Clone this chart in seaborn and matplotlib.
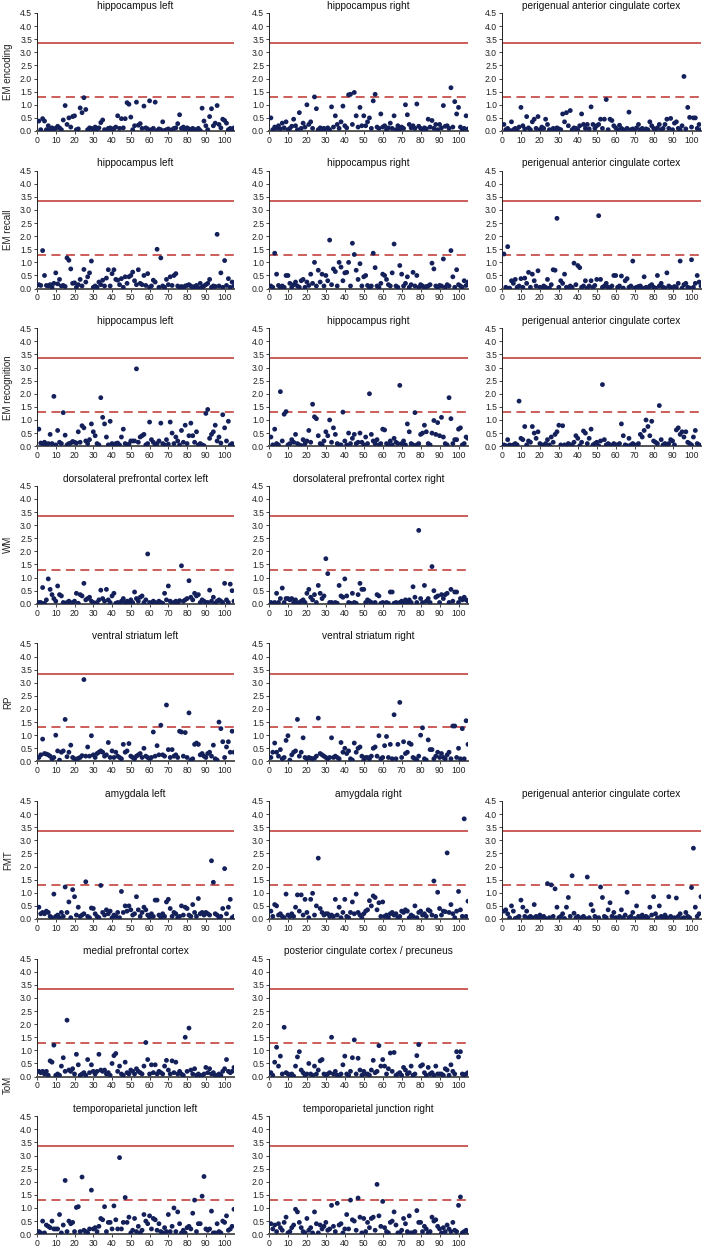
import numpy as np
import pandas as pd
import matplotlib
matplotlib.use("Agg")
import matplotlib.pyplot as plt
import seaborn as sns

# -log10(p) for each of the 105 tests, one list per panel
enc_hip_left = [
    0.38, 0.05, 0.47, 0.38, 0.05, 0.2, 0.05, 0.12, 0.08, 0.1, 0.18, 0.12, 0.05, 0.42, 0.97,
    0.25, 0.5, 0.15, 0.55, 0.58, 0.05, 0.08, 0.88, 0.7, 1.27, 0.82, 0.05, 0.12, 0.1, 0.05,
    0.15, 0.08, 0.12, 0.32, 0.42, 0.05, 0.02, 0.1, 0.12, 0.05, 0.1, 0.15, 0.58, 0.1, 0.47,
    0.12, 0.47, 1.08, 1.02, 0.53, 0.05, 0.2, 1.1, 0.22, 0.28, 0.1, 0.95, 0.12, 0.08, 1.15,
    0.05, 0.1, 1.1, 0.02, 0.08, 0.05, 0.35, 0.02, 0.05, 0.08, 0.02, 0.05, 0.1, 0.12, 0.28,
    0.62, 0.1, 0.15, 0.05, 0.12, 0.08, 0.02, 0.1, 0.05, 0.05, 0.1, 0.02, 0.87, 0.38, 0.2,
    0.05, 0.55, 0.85, 0.2, 0.3, 0.97, 0.25, 0.12, 0.45, 0.4, 0.3, 0.05, 0.1, 0.05, 0.12]
enc_hip_right = [
    0.5, 0.05, 0.15, 0.1, 0.2, 0.08, 0.3, 0.12, 0.35, 0.05, 0.1, 0.18, 0.45, 0.2, 0.05,
    0.7, 0.1, 0.3, 0.15, 1.0, 0.25, 0.35, 0.1, 1.3, 0.85, 0.05, 0.12, 0.08, 0.1, 0.05,
    0.12, 0.05, 0.92, 0.15, 0.58, 0.25, 0.1, 0.35, 0.95, 0.2, 0.12, 1.38, 1.4, 0.25, 1.47,
    0.58, 0.15, 0.9, 0.2, 0.58, 0.2, 0.35, 0.5, 0.1, 1.15, 1.4, 0.15, 0.1, 0.65, 0.15,
    0.2, 0.05, 0.12, 0.3, 0.1, 0.58, 0.05, 0.2, 0.08, 0.15, 0.1, 1.0, 0.62, 0.25, 0.12,
    0.2, 0.1, 1.03, 0.18, 0.1, 0.05, 0.12, 0.08, 0.45, 0.15, 0.4, 0.1, 0.25, 0.05, 0.25,
    0.12, 0.97, 0.18, 0.2, 0.1, 1.65, 0.15, 1.12, 0.65, 0.9, 0.15, 0.05, 0.1, 0.58, 0.08]
enc_pgacc = [
    0.25, 0.05, 0.1, 0.02, 0.35, 0.05, 0.1, 0.02, 0.15, 0.9, 0.2, 0.08, 0.55, 0.12, 0.05,
    0.35, 0.45, 0.1, 0.55, 0.05, 0.15, 0.1, 0.45, 0.25, 0.05, 0.02, 0.1, 0.05, 0.12, 0.08,
    0.05, 0.65, 0.35, 0.7, 0.2, 0.78, 0.05, 0.12, 0.1, 0.05, 0.2, 0.65, 0.25, 0.1, 0.25,
    0.08, 0.92, 0.25, 0.1, 0.2, 0.25, 0.45, 0.1, 0.45, 1.2, 0.05, 0.45, 0.4, 0.2, 0.12,
    0.05, 0.22, 0.1, 0.05, 0.02, 0.1, 0.72, 0.05, 0.08, 0.02, 0.12, 0.25, 0.05, 0.1, 0.02,
    0.08, 0.05, 0.35, 0.2, 0.1, 0.05, 0.12, 0.25, 0.05, 0.1, 0.25, 0.45, 0.1, 0.48, 0.05,
    0.3, 0.35, 0.1, 0.05, 0.2, 2.08, 0.08, 0.9, 0.52, 0.15, 0.5, 0.5, 0.1, 0.25, 0.05]

rec_hip_left = [
    0.15, 0.12, 1.45, 0.5, 0.12, 0.1, 0.15, 0.05, 0.2, 0.6, 0.18, 0.35, 0.1, 0.12, 0.08,
    1.17, 1.08, 0.75, 0.2, 0.22, 0.05, 0.15, 0.35, 0.1, 0.73, 0.25, 0.45, 0.6, 1.05, 0.05,
    0.1, 0.05, 0.25, 0.15, 0.32, 0.1, 0.4, 0.72, 0.1, 0.57, 0.72, 0.35, 0.32, 0.15, 0.38,
    0.05, 0.45, 0.2, 0.45, 0.5, 0.63, 0.3, 0.15, 0.72, 0.2, 0.15, 0.5, 0.12, 0.57, 0.05,
    0.1, 0.32, 0.25, 1.5, 0.05, 1.17, 0.1, 0.05, 0.35, 0.15, 0.45, 0.12, 0.5, 0.57, 0.1,
    0.05, 0.08, 0.02, 0.1, 0.12, 0.15, 0.1, 0.05, 0.08, 0.12, 0.02, 0.2, 0.05, 0.1, 0.15,
    0.2, 0.35, 0.05, 0.1, 0.08, 2.07, 0.1, 0.6, 0.05, 1.07, 0.12, 0.38, 0.05, 0.25, 0.1]
rec_hip_right = [
    0.1, 0.05, 1.35, 0.55, 0.12, 0.05, 0.1, 0.05, 0.5, 0.5, 0.2, 0.05, 0.15, 0.25, 0.1,
    0.05, 0.3, 0.35, 0.05, 0.25, 0.12, 0.55, 0.2, 1.0, 0.1, 0.7, 0.25, 0.55, 0.1, 0.5,
    0.3, 1.85, 0.15, 0.75, 0.65, 0.1, 1.0, 0.82, 0.3, 0.6, 0.62, 1.0, 0.1, 1.73, 1.3,
    0.7, 0.35, 0.95, 0.1, 0.45, 0.5, 0.12, 0.05, 0.1, 1.35, 0.8, 0.1, 0.05, 0.2, 0.55,
    0.5, 0.35, 0.15, 0.1, 0.6, 1.7, 0.1, 0.05, 0.88, 0.55, 0.1, 0.2, 0.45, 0.05, 0.15,
    0.62, 0.1, 0.5, 0.05, 0.15, 0.1, 0.05, 0.08, 0.1, 0.15, 0.97, 0.75, 0.1, 0.05, 0.12,
    0.1, 1.13, 0.05, 0.15, 0.1, 1.45, 0.45, 0.05, 0.72, 0.15, 0.1, 0.05, 0.3, 0.12, 0.25]
rec_pgacc = [
    1.32, 0.05, 1.6, 0.02, 0.3, 0.2, 0.35, 0.05, 0.1, 0.38, 0.05, 0.4, 0.2, 0.62, 0.05,
    0.55, 0.3, 0.1, 0.68, 0.05, 0.02, 0.1, 0.05, 0.35, 0.02, 0.15, 0.72, 0.7, 2.68, 0.05,
    0.3, 0.2, 0.55, 0.05, 0.02, 0.1, 0.05, 0.97, 0.15, 0.88, 0.8, 0.05, 0.1, 0.3, 0.02,
    0.1, 0.3, 0.05, 0.12, 0.35, 2.78, 0.35, 0.05, 0.1, 0.2, 0.05, 0.02, 0.1, 0.5, 0.5,
    0.05, 0.1, 0.48, 0.02, 0.3, 0.38, 0.05, 0.1, 1.05, 0.02, 0.05, 0.08, 0.1, 0.02, 0.45,
    0.05, 0.02, 0.1, 0.15, 0.05, 0.02, 0.5, 0.1, 0.2, 0.05, 0.02, 0.6, 0.1, 0.05, 0.02,
    0.08, 0.05, 0.2, 1.05, 0.02, 0.15, 0.2, 0.05, 0.02, 1.1, 0.05, 0.2, 0.5, 0.25, 0.1]

recog_hip_left = [
    0.65, 0.12, 0.1, 0.15, 0.05, 0.1, 0.45, 0.1, 1.9, 0.05, 0.6, 0.15, 0.1, 1.28, 0.42,
    0.05, 0.1, 0.12, 0.18, 0.15, 0.12, 0.55, 0.15, 0.78, 0.7, 0.2, 0.1, 0.25, 0.85, 0.55,
    0.4, 0.1, 0.05, 1.85, 1.1, 0.85, 0.35, 0.05, 0.95, 0.1, 0.05, 0.1, 0.12, 0.05, 0.35,
    0.65, 0.1, 0.05, 0.08, 0.2, 0.2, 0.2, 2.95, 0.15, 0.35, 0.4, 0.45, 0.05, 0.1, 0.92,
    0.25, 0.15, 0.05, 0.1, 0.2, 0.88, 0.1, 0.05, 0.25, 0.08, 0.92, 0.5, 0.1, 0.35, 0.2,
    0.05, 0.6, 0.15, 0.8, 0.1, 0.4, 0.88, 0.4, 0.15, 0.55, 0.05, 0.1, 0.05, 0.02, 1.25,
    1.4, 0.3, 0.45, 0.55, 0.8, 0.2, 0.35, 0.12, 1.2, 0.7, 0.2, 0.95, 0.05, 0.1, 0.05]
recog_hip_right = [
    0.35, 0.05, 0.65, 0.1, 0.05, 2.08, 0.2, 1.22, 1.32, 0.05, 0.1, 0.25, 0.15, 0.45, 0.1,
    0.05, 0.02, 0.25, 0.1, 0.2, 0.6, 0.15, 1.6, 1.12, 1.05, 0.4, 0.1, 0.05, 0.2, 0.55,
    0.4, 1.0, 0.15, 0.7, 0.45, 0.1, 0.05, 0.05, 1.3, 0.2, 0.05, 0.5, 0.1, 0.3, 0.45,
    0.1, 0.15, 0.5, 0.15, 0.05, 0.35, 0.1, 2.0, 0.45, 0.2, 0.1, 0.25, 0.05, 0.1, 0.65,
    0.62, 0.1, 0.05, 0.2, 0.05, 0.3, 0.15, 0.1, 2.32, 0.1, 0.2, 0.05, 0.85, 0.55, 0.1,
    0.05, 1.28, 0.05, 0.1, 0.45, 0.5, 0.8, 0.55, 0.1, 0.05, 0.5, 0.98, 0.45, 0.9, 0.4,
    1.1, 0.35, 0.1, 0.05, 1.85, 1.05, 0.1, 0.25, 0.25, 0.65, 0.7, 0.05, 0.1, 0.35, 0.3]
recog_pgacc = [
    0.05, 0.02, 0.25, 0.05, 0.02, 0.05, 0.1, 0.05, 1.72, 0.3, 0.25, 0.75, 0.05, 0.2, 0.15,
    0.75, 0.5, 0.3, 0.55, 0.1, 0.05, 0.02, 0.1, 0.25, 0.05, 0.35, 0.15, 0.45, 0.55, 0.8,
    0.05, 0.78, 0.05, 0.02, 0.1, 0.05, 0.05, 0.15, 0.4, 0.3, 0.02, 0.15, 0.58, 0.5, 0.1,
    0.3, 0.65, 0.05, 0.1, 0.15, 0.02, 0.2, 2.35, 0.25, 0.05, 0.1, 0.05, 0.02, 0.1, 0.05,
    0.05, 0.1, 0.85, 0.4, 0.05, 0.02, 0.3, 0.05, 0.1, 0.05, 0.02, 0.1, 0.45, 0.35, 0.6,
    1.0, 0.75, 0.4, 0.95, 0.2, 0.15, 0.1, 1.55, 0.25, 0.05, 0.1, 0.05, 0.1, 0.25, 0.2,
    0.05, 0.62, 0.7, 0.45, 0.55, 0.35, 0.55, 0.15, 0.1, 0.05, 0.35, 0.6, 0.1, 0.05, 0.02]

wm_dlpfc_left = [
    0.05, 0.05, 0.62, 0.02, 0.15, 0.95, 0.55, 0.35, 0.2, 0.1, 0.68, 0.35, 0.3, 0.05, 0.02,
    0.05, 0.1, 0.02, 0.05, 0.1, 0.4, 0.02, 0.35, 0.3, 0.78, 0.15, 0.2, 0.25, 0.1, 0.05,
    0.02, 0.05, 0.15, 0.52, 0.2, 0.1, 0.55, 0.15, 0.05, 0.3, 0.4, 0.02, 0.05, 0.02, 0.1,
    0.2, 0.05, 0.1, 0.02, 0.15, 0.05, 0.45, 0.2, 0.1, 0.25, 0.3, 0.05, 0.15, 1.9, 0.05,
    0.02, 0.1, 0.05, 0.02, 0.1, 0.05, 0.02, 0.4, 0.15, 0.68, 0.1, 0.02, 0.05, 0.1, 0.02,
    0.12, 1.45, 0.1, 0.15, 0.2, 0.88, 0.25, 0.15, 0.4, 0.3, 0.35, 0.05, 0.15, 0.1, 0.05,
    0.05, 0.52, 0.1, 0.25, 0.02, 0.1, 0.15, 0.1, 0.05, 0.78, 0.15, 0.05, 0.75, 0.5, 0.1]
wm_dlpfc_right = [
    0.05, 0.02, 0.05, 0.4, 0.05, 0.2, 0.6, 0.05, 0.2, 0.2, 0.15, 0.2, 0.05, 0.15, 0.02,
    0.05, 0.1, 0.15, 0.05, 0.4, 0.55, 0.25, 0.15, 0.35, 0.05, 0.7, 0.4, 0.2, 0.3, 1.72,
    1.15, 0.05, 0.05, 0.02, 0.05, 0.02, 0.7, 0.3, 0.25, 0.95, 0.3, 0.05, 0.02, 0.4, 0.05,
    0.02, 0.35, 0.78, 0.55, 0.55, 0.05, 0.15, 0.1, 0.05, 0.02, 0.05, 0.35, 0.3, 0.02, 0.05,
    0.02, 0.05, 0.02, 0.45, 0.45, 0.02, 0.05, 0.02, 0.05, 0.1, 0.05, 0.15, 0.02, 0.15, 0.05,
    0.65, 0.25, 0.05, 2.8, 0.2, 0.05, 0.7, 0.1, 0.2, 0.05, 1.42, 0.5, 0.25, 0.3, 0.05,
    0.35, 0.2, 0.35, 0.4, 0.05, 0.55, 0.1, 0.45, 0.45, 0.05, 0.2, 0.15, 0.25, 0.15, 0.1]

rp_vs_left = [
    0.15, 0.25, 0.85, 0.3, 0.28, 0.25, 0.2, 0.1, 0.15, 1.0, 0.4, 0.05, 0.35, 0.4, 1.6,
    0.18, 0.35, 0.62, 0.15, 0.1, 0.05, 0.12, 0.15, 0.22, 3.12, 0.2, 0.55, 0.2, 0.98, 0.25,
    0.15, 0.3, 0.35, 0.4, 0.35, 0.2, 0.25, 0.72, 0.15, 0.4, 0.15, 0.35, 0.2, 0.15, 0.1,
    0.65, 0.35, 0.4, 0.68, 0.2, 0.15, 0.1, 0.2, 0.25, 0.3, 0.15, 0.5, 0.2, 0.15, 0.1,
    0.15, 1.12, 0.2, 0.6, 0.25, 1.38, 0.25, 0.2, 2.15, 0.45, 0.15, 0.45, 0.2, 0.25, 0.15,
    1.15, 1.12, 0.2, 1.1, 0.15, 1.85, 0.05, 0.1, 0.65, 0.7, 0.65, 0.25, 0.3, 0.2, 0.15,
    0.3, 0.35, 0.2, 0.62, 0.1, 0.05, 1.5, 1.25, 0.75, 0.15, 0.55, 0.75, 0.35, 1.15, 0.35]
rp_vs_right = [
    0.15, 0.35, 0.7, 0.35, 0.2, 0.45, 0.1, 0.15, 0.8, 0.98, 0.05, 0.25, 0.35, 0.4, 1.6,
    0.2, 0.35, 0.9, 0.15, 0.1, 0.15, 0.12, 0.1, 0.12, 0.2, 1.65, 0.3, 0.25, 0.2, 0.15,
    0.1, 0.15, 0.9, 0.15, 0.2, 0.15, 0.1, 0.72, 0.35, 0.5, 0.3, 0.4, 0.1, 0.05, 0.7,
    0.35, 0.5, 0.55, 0.2, 0.05, 0.15, 0.15, 0.1, 0.2, 0.5, 0.55, 0.2, 0.98, 0.1, 0.15,
    0.6, 0.95, 0.15, 0.65, 0.1, 1.78, 0.1, 0.65, 2.25, 0.15, 0.75, 0.3, 0.35, 0.7, 0.65,
    0.15, 0.1, 0.05, 0.2, 1.0, 1.28, 0.1, 0.05, 0.82, 0.45, 0.45, 0.1, 0.2, 0.35, 0.15,
    0.3, 0.15, 0.1, 0.25, 0.35, 0.1, 1.35, 1.35, 0.15, 0.5, 0.1, 1.25, 0.1, 1.55, 0.65]

fmt_amy_left = [
    0.45, 0.2, 0.25, 0.2, 0.3, 0.25, 0.1, 0.05, 0.95, 0.1, 0.15, 0.05, 0.25, 0.1, 1.22,
    0.25, 0.65, 0.05, 1.12, 0.85, 0.15, 0.45, 0.1, 0.15, 0.2, 1.42, 0.1, 0.05, 0.42, 0.4,
    0.2, 0.1, 0.05, 1.28, 0.25, 0.15, 0.35, 0.2, 0.3, 0.05, 0.15, 0.1, 0.25, 0.05, 1.05,
    0.25, 0.5, 0.3, 0.5, 0.35, 0.15, 0.2, 0.85, 0.35, 0.1, 0.25, 0.45, 0.35, 0.15, 0.05,
    0.2, 0.1, 0.72, 0.72, 0.15, 0.05, 0.2, 0.1, 0.65, 0.75, 0.4, 0.1, 0.25, 0.2, 0.05,
    0.1, 0.5, 0.15, 0.45, 0.4, 0.15, 0.1, 0.55, 0.25, 0.1, 0.78, 0.2, 0.25, 0.15, 0.25,
    0.2, 0.15, 2.22, 1.4, 0.2, 0.15, 0.05, 0.1, 0.4, 1.92, 0.2, 0.45, 0.75, 0.05, 0.1]
fmt_amy_right = [
    0.3, 0.1, 0.55, 0.5, 0.15, 0.2, 0.1, 0.05, 0.95, 0.15, 0.1, 0.2, 0.1, 0.45, 0.92,
    0.3, 0.92, 0.15, 0.75, 0.25, 0.05, 0.75, 0.98, 0.15, 0.5, 2.32, 0.4, 0.25, 0.15, 0.2,
    0.2, 0.1, 0.15, 0.1, 0.75, 0.15, 0.45, 0.05, 0.25, 0.75, 0.1, 0.05, 0.25, 0.65, 0.2,
    0.95, 0.25, 0.15, 0.05, 0.2, 0.3, 0.35, 0.7, 0.5, 0.88, 0.82, 0.35, 0.62, 0.1, 0.65,
    0.1, 0.15, 0.05, 0.2, 0.25, 0.15, 0.2, 0.05, 0.1, 0.3, 0.25, 0.35, 0.3, 0.05, 0.15,
    0.1, 0.5, 0.05, 0.25, 0.3, 0.15, 0.2, 0.1, 0.35, 0.3, 0.15, 1.45, 0.1, 1.02, 0.4,
    0.15, 0.3, 0.28, 2.52, 0.25, 0.55, 0.2, 0.05, 0.3, 1.05, 0.35, 0.1, 3.82, 0.1, 0.68]
fmt_pgacc = [
    0.3, 0.35, 0.2, 0.05, 0.5, 0.3, 0.02, 0.05, 0.1, 0.72, 0.45, 0.1, 0.3, 0.05, 0.1,
    0.05, 0.55, 0.1, 0.02, 0.15, 0.05, 0.1, 0.02, 1.35, 0.05, 1.3, 0.1, 1.15, 0.45, 0.05,
    0.1, 0.2, 0.02, 0.45, 0.82, 0.1, 1.65, 0.22, 0.05, 0.1, 0.02, 0.05, 0.1, 0.02, 1.6,
    0.05, 0.55, 0.32, 0.1, 0.02, 0.05, 1.22, 0.82, 0.1, 0.05, 0.35, 0.62, 0.1, 0.25, 0.05,
    0.02, 0.1, 0.35, 0.05, 0.15, 1.02, 0.05, 0.1, 0.25, 0.02, 0.5, 0.1, 0.05, 0.15, 0.02,
    0.1, 0.05, 0.45, 0.15, 0.85, 0.2, 0.05, 0.5, 0.1, 0.02, 0.15, 0.05, 0.85, 0.1, 0.02,
    0.05, 0.8, 0.1, 0.2, 0.02, 0.05, 0.25, 0.1, 0.05, 1.2, 2.7, 0.45, 0.1, 0.2, 0.85]

tom_mpfc = [
    0.2, 0.15, 0.2, 0.1, 0.2, 0.05, 0.6, 0.55, 1.2, 0.05, 0.1, 0.05, 0.4, 0.72, 0.2,
    2.15, 0.25, 0.2, 0.3, 0.1, 0.85, 0.45, 0.05, 0.1, 0.15, 0.05, 0.65, 0.15, 0.45, 0.2,
    0.1, 0.2, 0.85, 0.25, 0.2, 0.25, 0.1, 0.15, 0.05, 0.5, 0.8, 0.88, 0.2, 0.4, 0.1,
    0.05, 0.55, 0.15, 0.1, 0.25, 0.2, 0.1, 0.3, 0.2, 0.15, 0.1, 0.4, 1.3, 0.65, 0.1,
    0.45, 0.15, 0.45, 0.1, 0.2, 0.15, 0.1, 0.4, 0.62, 0.25, 0.1, 0.6, 0.15, 0.55, 0.1,
    0.2, 0.1, 0.05, 1.5, 0.2, 1.85, 0.25, 0.1, 0.3, 0.05, 0.1, 0.05, 0.02, 0.1, 0.35,
    0.15, 0.3, 0.1, 0.15, 0.05, 0.05, 0.1, 0.05, 0.2, 0.3, 0.65, 0.2, 0.15, 0.2, 0.35]
tom_pcc = [
    0.15, 0.05, 0.55, 1.12, 0.4, 0.78, 0.1, 1.88, 0.15, 0.1, 0.05, 0.1, 0.02, 0.4, 0.75,
    0.95, 0.25, 0.15, 0.05, 0.1, 0.5, 0.1, 0.05, 0.4, 0.1, 0.25, 0.6, 0.65, 0.1, 0.05,
    0.1, 0.15, 1.5, 0.1, 0.2, 0.05, 0.05, 0.1, 0.45, 0.78, 0.1, 0.05, 0.2, 0.72, 1.4,
    0.1, 0.7, 0.25, 0.05, 0.2, 0.1, 0.1, 0.05, 0.25, 0.62, 0.15, 0.2, 1.18, 0.4, 0.65,
    0.4, 0.1, 0.3, 0.9, 0.2, 0.92, 0.05, 0.1, 0.15, 0.05, 0.35, 0.25, 0.1, 0.15, 0.4,
    0.05, 0.1, 0.8, 1.22, 0.4, 0.45, 0.15, 0.05, 0.35, 0.1, 0.15, 0.05, 0.4, 0.1, 0.1,
    0.1, 0.05, 0.3, 0.25, 0.05, 0.45, 0.2, 0.1, 0.95, 0.75, 0.95, 0.1, 0.05, 0.1, 0.15]
tom_tpj_left = [
    0.1, 0.05, 0.5, 0.05, 0.35, 0.3, 0.25, 0.5, 0.2, 0.2, 0.2, 0.75, 0.05, 0.35, 2.05,
    0.1, 0.5, 0.4, 0.45, 0.1, 1.02, 1.05, 0.1, 2.18, 0.15, 0.1, 0.05, 0.2, 1.68, 0.2,
    0.25, 0.1, 0.3, 0.6, 0.55, 1.05, 0.1, 0.45, 0.45, 0.2, 1.08, 0.55, 0.2, 2.92, 0.2,
    0.45, 1.4, 0.45, 0.65, 0.05, 0.15, 0.6, 0.1, 0.3, 0.05, 0.15, 0.75, 0.5, 0.4, 0.7,
    0.2, 0.6, 0.55, 0.15, 0.4, 0.1, 0.05, 0.25, 0.1, 0.75, 0.1, 0.3, 1.0, 0.1, 0.85,
    0.4, 0.05, 0.15, 0.05, 0.25, 0.3, 0.2, 0.8, 1.3, 0.1, 0.4, 0.4, 1.45, 2.2, 0.2,
    0.15, 0.2, 0.88, 0.05, 0.05, 0.4, 0.1, 0.05, 0.5, 0.45, 0.7, 0.15, 0.2, 0.3, 0.95]
tom_tpj_right = [
    0.4, 0.2, 0.35, 0.1, 0.4, 0.25, 0.15, 0.45, 0.65, 0.05, 0.1, 0.25, 0.35, 0.95, 0.85,
    0.45, 0.25, 0.1, 0.05, 0.6, 0.15, 0.25, 0.05, 0.85, 0.4, 0.05, 0.35, 0.2, 0.3, 0.45,
    0.15, 0.2, 1.1, 0.3, 0.1, 1.18, 0.35, 0.4, 0.05, 0.2, 0.75, 0.2, 1.3, 0.55, 0.5,
    0.15, 1.38, 0.65, 0.05, 0.6, 0.1, 0.45, 0.25, 0.6, 0.65, 0.15, 1.9, 0.7, 0.3, 1.25,
    0.25, 0.1, 0.05, 0.45, 0.5, 0.85, 0.35, 0.05, 0.05, 0.15, 0.6, 0.4, 0.1, 0.7, 0.05,
    0.05, 0.1, 0.9, 0.45, 0.45, 0.1, 0.3, 0.2, 0.05, 0.1, 0.65, 0.5, 0.55, 0.3, 0.2,
    0.05, 0.25, 0.1, 0.35, 0.2, 0.1, 0.45, 0.15, 0.1, 1.1, 1.42, 0.05, 0.1, 0.15, 0.1]

tests = np.arange(1, 106)

# (row, column, panel title, values)
panels = [
    (0, 0, "hippocampus left", enc_hip_left),
    (0, 1, "hippocampus right", enc_hip_right),
    (0, 2, "perigenual anterior cingulate cortex", enc_pgacc),
    (1, 0, "hippocampus left", rec_hip_left),
    (1, 1, "hippocampus right", rec_hip_right),
    (1, 2, "perigenual anterior cingulate cortex", rec_pgacc),
    (2, 0, "hippocampus left", recog_hip_left),
    (2, 1, "hippocampus right", recog_hip_right),
    (2, 2, "perigenual anterior cingulate cortex", recog_pgacc),
    (3, 0, "dorsolateral prefrontal cortex left", wm_dlpfc_left),
    (3, 1, "dorsolateral prefrontal cortex right", wm_dlpfc_right),
    (4, 0, "ventral striatum left", rp_vs_left),
    (4, 1, "ventral striatum right", rp_vs_right),
    (5, 0, "amygdala left", fmt_amy_left),
    (5, 1, "amygdala right", fmt_amy_right),
    (5, 2, "perigenual anterior cingulate cortex", fmt_pgacc),
    (6, 0, "medial prefrontal cortex", tom_mpfc),
    (6, 1, "posterior cingulate cortex / precuneus", tom_pcc),
    (7, 0, "temporoparietal junction left", tom_tpj_left),
    (7, 1, "temporoparietal junction right", tom_tpj_right),
]
row_labels = ["EM encoding", "EM recall", "EM recognition", "WM", "RP", "FMT"]

bonferroni = 3.35
nominal = 1.3

sns.set_style("white")
plt.rcParams["font.family"] = ["Liberation Sans", "DejaVu Sans"]

W, H = 704, 1250
fig = plt.figure(figsize=(W / 100, H / 100), dpi=100)

col_left = [37, 269, 502]
col_width = [197, 199, 199]
row_pitch = 157.6
plot_h = 118

for row, col, title, vals in panels:
    bottom_px = 131 + row_pitch * row
    ax = fig.add_axes([col_left[col] / W, 1 - bottom_px / H,
                       col_width[col] / W, plot_h / H])
    df = pd.DataFrame({"test": tests, "logp": vals})
    ax.axhline(bonferroni, color="#c8504d", lw=1.3, zorder=1)
    ax.axhline(nominal, color="#c8504d", lw=1.3, ls=(0, (5, 3)), zorder=1)
    sns.scatterplot(data=df, x="test", y="logp", ax=ax, color="#14205a",
                    s=12, edgecolor="none", zorder=3)
    ax.set_xlim(0, 105)
    ax.set_ylim(0, 4.5)
    ax.set_xticks(range(0, 101, 10))
    ax.set_yticks(np.arange(0, 4.51, 0.5))
    ax.set_yticklabels([f"{v:.1f}" for v in np.arange(0, 4.51, 0.5)])
    ax.tick_params(axis="both", labelsize=6.2, length=2, width=0.6,
                   colors="#222222", pad=1.5)
    ax.tick_params(axis="y", left=True)
    ax.tick_params(axis="x", bottom=True)
    ax.set_xlabel("")
    ax.set_ylabel("")
    for side in ["top", "right"]:
        ax.spines[side].set_visible(False)
    ax.spines["left"].set_color("#222222")
    ax.spines["left"].set_linewidth(0.7)
    ax.spines["bottom"].set_color("#555555")
    ax.spines["bottom"].set_linewidth(1.4)
    ax.set_title(title, fontsize=7.3, pad=3, color="#111111")

for i, lab in enumerate(row_labels):
    yc = 131 + row_pitch * i - plot_h / 2
    fig.text(8 / W, 1 - yc / H, lab, rotation=90, ha="center", va="center",
             fontsize=7, color="#222222")
fig.text(8 / W, 1 - 1085 / H, "ToM", rotation=90, ha="center", va="center",
         fontsize=7, color="#222222")

fig.savefig("out.png", dpi=100, facecolor="white")
